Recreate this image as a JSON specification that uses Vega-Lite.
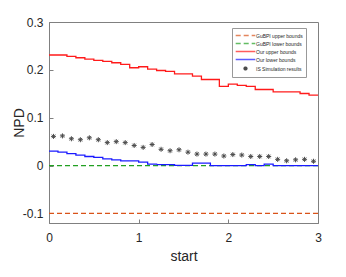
{
  "$schema": "https://vega.github.io/schema/vega-lite/v6.json",
  "width": 269,
  "height": 201,
  "autosize": {"type": "none"},
  "padding": {"left": 49, "top": 22, "right": 28, "bottom": 54},
  "config": {
    "font": "Liberation Sans",
    "view": {"stroke": "#808080", "strokeWidth": 1},
    "axis": {
      "grid": false,
      "domainColor": "#808080",
      "tickColor": "#808080",
      "labelColor": "#262626",
      "titleColor": "#262626",
      "labelFontSize": 12,
      "titleFontSize": 14,
      "titleFontWeight": "normal",
      "labelFont": "Liberation Sans",
      "titleFont": "Liberation Sans"
    }
  },
  "data": {
    "values": [
      {"series": "GuBPI upper bounds", "x": 0, "y": -0.1},
      {"series": "GuBPI upper bounds", "x": 3, "y": -0.1},
      {"series": "GuBPI lower bounds", "x": 0, "y": 0},
      {"series": "GuBPI lower bounds", "x": 3, "y": 0},
      {"series": "Our upper bounds", "x": 0.0, "y": 0.231},
      {"series": "Our upper bounds", "x": 0.1, "y": 0.231},
      {"series": "Our upper bounds", "x": 0.2, "y": 0.228},
      {"series": "Our upper bounds", "x": 0.3, "y": 0.2253},
      {"series": "Our upper bounds", "x": 0.4, "y": 0.2225},
      {"series": "Our upper bounds", "x": 0.5, "y": 0.22},
      {"series": "Our upper bounds", "x": 0.6, "y": 0.2176},
      {"series": "Our upper bounds", "x": 0.7, "y": 0.2148},
      {"series": "Our upper bounds", "x": 0.8, "y": 0.2113},
      {"series": "Our upper bounds", "x": 0.9, "y": 0.2044},
      {"series": "Our upper bounds", "x": 1.0, "y": 0.2065},
      {"series": "Our upper bounds", "x": 1.1, "y": 0.2015},
      {"series": "Our upper bounds", "x": 1.2, "y": 0.1987},
      {"series": "Our upper bounds", "x": 1.3, "y": 0.1967},
      {"series": "Our upper bounds", "x": 1.4, "y": 0.1918},
      {"series": "Our upper bounds", "x": 1.5, "y": 0.1918},
      {"series": "Our upper bounds", "x": 1.6, "y": 0.1868},
      {"series": "Our upper bounds", "x": 1.7, "y": 0.1799},
      {"series": "Our upper bounds", "x": 1.8, "y": 0.1799},
      {"series": "Our upper bounds", "x": 1.9, "y": 0.1653},
      {"series": "Our upper bounds", "x": 2.0, "y": 0.17},
      {"series": "Our upper bounds", "x": 2.1, "y": 0.1674},
      {"series": "Our upper bounds", "x": 2.2, "y": 0.1653},
      {"series": "Our upper bounds", "x": 2.3, "y": 0.159},
      {"series": "Our upper bounds", "x": 2.4, "y": 0.159},
      {"series": "Our upper bounds", "x": 2.5, "y": 0.154},
      {"series": "Our upper bounds", "x": 2.6, "y": 0.154},
      {"series": "Our upper bounds", "x": 2.7, "y": 0.154},
      {"series": "Our upper bounds", "x": 2.8, "y": 0.1506},
      {"series": "Our upper bounds", "x": 2.9, "y": 0.147},
      {"series": "Our upper bounds", "x": 3.0, "y": 0.147},
      {"series": "Our lower bounds", "x": 0.0, "y": 0.03},
      {"series": "Our lower bounds", "x": 0.1, "y": 0.028},
      {"series": "Our lower bounds", "x": 0.2, "y": 0.025},
      {"series": "Our lower bounds", "x": 0.3, "y": 0.022},
      {"series": "Our lower bounds", "x": 0.4, "y": 0.019},
      {"series": "Our lower bounds", "x": 0.5, "y": 0.017},
      {"series": "Our lower bounds", "x": 0.6, "y": 0.014},
      {"series": "Our lower bounds", "x": 0.7, "y": 0.012},
      {"series": "Our lower bounds", "x": 0.8, "y": 0.01},
      {"series": "Our lower bounds", "x": 0.9, "y": 0.01},
      {"series": "Our lower bounds", "x": 1.0, "y": 0.007},
      {"series": "Our lower bounds", "x": 1.1, "y": 0.003},
      {"series": "Our lower bounds", "x": 1.2, "y": 0.002},
      {"series": "Our lower bounds", "x": 1.3, "y": 0.002},
      {"series": "Our lower bounds", "x": 1.4, "y": 0.0005},
      {"series": "Our lower bounds", "x": 1.5, "y": 0.0005},
      {"series": "Our lower bounds", "x": 1.6, "y": 0.005},
      {"series": "Our lower bounds", "x": 1.7, "y": 0.005},
      {"series": "Our lower bounds", "x": 1.8, "y": 0},
      {"series": "Our lower bounds", "x": 1.9, "y": 0},
      {"series": "Our lower bounds", "x": 2.0, "y": 0},
      {"series": "Our lower bounds", "x": 2.1, "y": 0},
      {"series": "Our lower bounds", "x": 2.2, "y": 0.002},
      {"series": "Our lower bounds", "x": 2.3, "y": 0},
      {"series": "Our lower bounds", "x": 2.4, "y": 0.003},
      {"series": "Our lower bounds", "x": 2.5, "y": 0},
      {"series": "Our lower bounds", "x": 2.6, "y": 0},
      {"series": "Our lower bounds", "x": 2.7, "y": 0},
      {"series": "Our lower bounds", "x": 2.8, "y": 0},
      {"series": "Our lower bounds", "x": 2.9, "y": 0},
      {"series": "Our lower bounds", "x": 3.0, "y": 0},
      {"series": "IS Simulation results", "x": 0.05, "y": 0.061},
      {"series": "IS Simulation results", "x": 0.15, "y": 0.062},
      {"series": "IS Simulation results", "x": 0.25, "y": 0.056},
      {"series": "IS Simulation results", "x": 0.35, "y": 0.054},
      {"series": "IS Simulation results", "x": 0.45, "y": 0.058},
      {"series": "IS Simulation results", "x": 0.55, "y": 0.054},
      {"series": "IS Simulation results", "x": 0.65, "y": 0.048},
      {"series": "IS Simulation results", "x": 0.75, "y": 0.05},
      {"series": "IS Simulation results", "x": 0.85, "y": 0.048},
      {"series": "IS Simulation results", "x": 0.95, "y": 0.042},
      {"series": "IS Simulation results", "x": 1.05, "y": 0.038},
      {"series": "IS Simulation results", "x": 1.15, "y": 0.044},
      {"series": "IS Simulation results", "x": 1.25, "y": 0.034},
      {"series": "IS Simulation results", "x": 1.35, "y": 0.031},
      {"series": "IS Simulation results", "x": 1.45, "y": 0.033},
      {"series": "IS Simulation results", "x": 1.55, "y": 0.028},
      {"series": "IS Simulation results", "x": 1.65, "y": 0.024},
      {"series": "IS Simulation results", "x": 1.75, "y": 0.024},
      {"series": "IS Simulation results", "x": 1.85, "y": 0.024},
      {"series": "IS Simulation results", "x": 1.95, "y": 0.02},
      {"series": "IS Simulation results", "x": 2.05, "y": 0.023},
      {"series": "IS Simulation results", "x": 2.15, "y": 0.022},
      {"series": "IS Simulation results", "x": 2.25, "y": 0.019},
      {"series": "IS Simulation results", "x": 2.35, "y": 0.019},
      {"series": "IS Simulation results", "x": 2.45, "y": 0.019},
      {"series": "IS Simulation results", "x": 2.55, "y": 0.013},
      {"series": "IS Simulation results", "x": 2.65, "y": 0.01},
      {"series": "IS Simulation results", "x": 2.75, "y": 0.012},
      {"series": "IS Simulation results", "x": 2.85, "y": 0.013},
      {"series": "IS Simulation results", "x": 2.95, "y": 0.009}
    ]
  },
  "encoding": {
    "x": {
      "field": "x",
      "type": "quantitative",
      "scale": {"domain": [0, 3], "nice": false, "zero": false},
      "axis": {"values": [0, 1, 2, 3], "title": "start", "tickSize": -4, "labelPadding": 13, "titlePadding": 6, "labelFlush": false}
    },
    "y": {
      "field": "y",
      "type": "quantitative",
      "scale": {"domain": [-0.12, 0.3], "nice": false, "zero": false},
      "axis": {"values": [-0.1, 0, 0.1, 0.2, 0.3], "labelExpr": "'' + datum.value", "title": "NPD", "tickSize": -4, "labelPadding": 10, "titlePadding": -4}
    },
    "color": {
      "field": "series",
      "type": "nominal",
      "scale": {
        "domain": ["GuBPI upper bounds", "GuBPI lower bounds", "Our upper bounds", "Our lower bounds", "IS Simulation results"],
        "range": ["#d95319", "#22a022", "#ff1a1a", "#1a1aff", "#000000"]
      },
      "legend": {
        "title": null,
        "orient": "none",
        "legendX": 183,
        "legendY": 6,
        "strokeColor": "#999999",
        "fillColor": "#ffffff",
        "padding": 3,
        "labelFontSize": 5,
        "labelColor": "#262626",
        "symbolSize": 49,
        "symbolStrokeWidth": 1.3,
        "rowPadding": 0,
        "labelOffset": 6,
        "symbolOffset": 6
      }
    }
  },
  "layer": [
    {
      "transform": [{"filter": "datum.series != 'IS Simulation results'"}],
      "mark": {"type": "line", "interpolate": "step-after", "strokeWidth": 1.3},
      "encoding": {
        "strokeDash": {
          "field": "series",
          "type": "nominal",
          "scale": {
            "domain": ["GuBPI upper bounds", "GuBPI lower bounds", "Our upper bounds", "Our lower bounds", "IS Simulation results"],
            "range": [[5, 3], [5, 3], [1, 0], [1, 0], [1, 0]]
          },
          "legend": {"title": null}
        }
      }
    },
    {
      "transform": [{"filter": "datum.series == 'IS Simulation results'"}],
      "mark": {"type": "point", "filled": false, "strokeWidth": 1, "size": 70},
      "encoding": {
        "shape": {
          "field": "series",
          "type": "nominal",
          "scale": {
            "domain": ["GuBPI upper bounds", "GuBPI lower bounds", "Our upper bounds", "Our lower bounds", "IS Simulation results"],
            "range": ["M-2.8,0L2.8,0", "M-2.8,0L2.8,0", "M-2.8,0L2.8,0", "M-2.8,0L2.8,0", "M-0.6,0L0.6,0M0,-0.6L0,0.6M-0.42,-0.42L0.42,0.42M-0.42,0.42L0.42,-0.42"]
          },
          "legend": {"title": null}
        }
      }
    }
  ]
}
